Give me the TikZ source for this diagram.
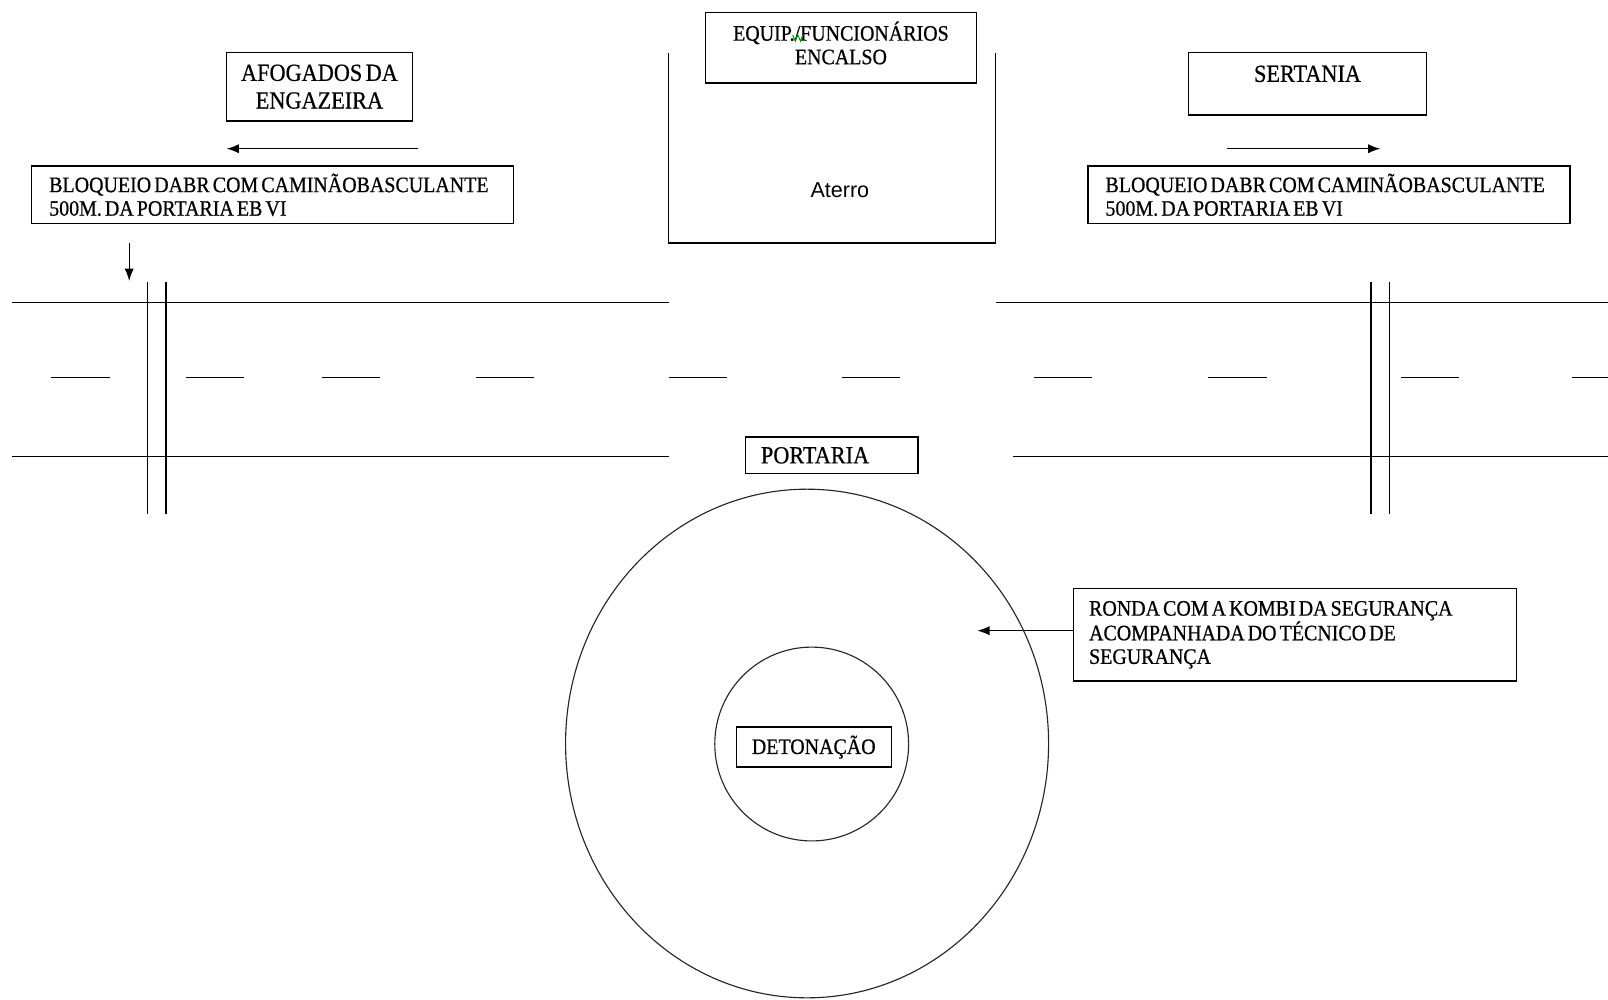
\documentclass[tikz,border=0pt]{standalone}
\usepackage{fontspec}
\usetikzlibrary{arrows.meta}
\newfontfamily\tnr[FakeStretch=0.905,FakeBold=0.6,WordSpace=0.6]{Liberation Serif}
\newfontfamily\arl{Liberation Sans}
\newcommand\smallfnt{\tnr\fontsize{21.5}{23}\selectfont}
\newcommand\largefnt{\tnr\fontsize{24}{27}\selectfont}
% narrow interword space for left-aligned box texts
\newcommand\tightsp{\spaceskip=0.14em plus 0.05em\relax}

\begin{document}
\begin{tikzpicture}[x=1pt,y=-1pt,
  box/.style={draw, line width=1.3pt, rectangle, inner sep=0pt},
  arr/.style={-{Latex[length=12pt,width=9pt]}, line width=1.3pt},
  road/.style={line width=1.5pt},
  ring/.style={line width=1.1pt, black!85}]
\useasboundingbox[fill=white] (0,0) rectangle (1568,975);

% --- labelled boxes ---
\node[box, minimum width=181pt, minimum height=67pt, align=center, font=\largefnt]
  (afog) at (311.5,84.5) {AFOGADOS DA\\ENGAZEIRA};
\node[box, minimum width=264pt, minimum height=69pt] (equip) at (820,46.5) {};
\node[align=center, font=\smallfnt, inner sep=0pt] (equiplbl) at (820,42) {EQUIP./FUNCIONÁRIOS\\ENCALSO};
\node[box, minimum width=232pt, minimum height=61pt] (sert) at (1275,81.5) {};
\node[font=\largefnt] (sertlbl) at (1275,72) {SERTANIA};

\node[box, minimum height=56pt, text width=436pt, inner xsep=17pt, align=left, font=\smallfnt]
  (blqL) at (266,190) {\tightsp BLOQUEIO DABR COM CAMINÃOBASCULANTE\\500M. DA PORTARIA EB VI};
\node[box, minimum height=56pt, text width=436pt, inner xsep=17pt, align=left, font=\smallfnt]
  (blqR) at (1296,190) {\tightsp BLOQUEIO DABR COM CAMINÃOBASCULANTE\\500M. DA PORTARIA EB VI};

\node[box, minimum height=36pt, text width=138pt, inner xsep=15pt, align=left, font=\largefnt]
  (port) at (811,444) {PORTARIA};
\node[box, minimum width=151pt, minimum height=39pt, font=\smallfnt]
  (deton) at (793.5,728.5) {DETONAÇÃO};
\node[box, minimum height=90pt, text width=402pt, inner xsep=15pt, align=left, font=\smallfnt]
  (ronda) at (1263,619) {\tightsp RONDA COM A KOMBI DA SEGURANÇA\\ACOMPANHADA DO TÉCNICO DE\\SEGURANÇA};

% grammar mark under the abbreviation
\draw[green!60!black, line width=1pt] (773,34) -- (775.5,40) -- (778,34) -- (780.5,40) -- (783,34);

% --- landfill enclosure ---
\draw[line width=1.3pt] (652,52) -- (652,237) -- (971,237) -- (971,52);
\node[font=\arl\fontsize{21}{24}\selectfont] (aterro) at (819,185) {Aterro};

% --- direction arrows ---
\coordinate (laS) at (408,145); \coordinate (laE) at (221,145);
\coordinate (raS) at (1196,145); \coordinate (raE) at (1346,145);
\coordinate (daS) at (126,237); \coordinate (daE) at (126,274);
\coordinate (rondaTip) at (953,615);
\draw[arr] (laS) -- (laE);
\draw[arr] (raS) -- (raE);
\draw[arr] (daS) -- (daE);
\draw[arr] ([yshift=4pt]ronda.west) -- (rondaTip);

% --- road ---
\draw[road] (12,295) -- (652,295);
\draw[road] (971,295) -- (1568,295);
\draw[road] (12,445) -- (652,445);
\draw[road] (988,445) -- (1568,445);
\foreach \a/\b in {50/107,181/238,314/371,464/521,652/709,821/878,1008/1065,1178/1235,1366/1423,1533/1570}
  \draw[road] (\a,368) -- (\b,368);

% --- road blocks ---
\foreach \x in {144,162,1337,1355}
  \draw[line width=1.3pt] (\x,275) -- (\x,501);

% --- safety perimeter ---
\draw[ring] (787,725) ellipse [x radius=235.5, y radius=248];
\draw[ring] (791.5,725.5) circle [radius=94.5];
\end{tikzpicture}
\end{document}
